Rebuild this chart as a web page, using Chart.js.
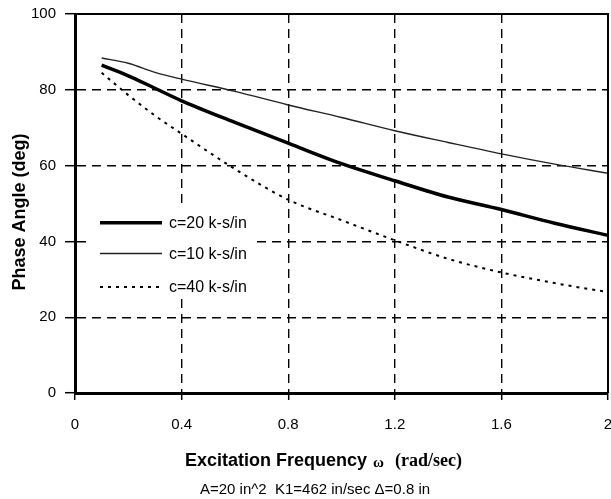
<!DOCTYPE html>
<html><head><meta charset="utf-8">
<script src="https://cdn.jsdelivr.net/npm/chart.js@4/dist/chart.umd.min.js"></script>
<style>
html,body{margin:0;padding:0;overflow:hidden;background:#fff;width:611px;height:499px}
#wrap{width:620px;height:499px}
</style></head>
<body><div id="wrap"><canvas id="c" width="620" height="499"></canvas></div>
<script>
const omega = [0.1, 0.2, 0.3, 0.4, 0.6, 0.8, 1.0, 1.2, 1.4, 1.6, 1.8, 2.0];
const phaseC20 = [86.5, 83.7, 80.4, 77.1, 71.4, 65.9, 60.5, 56.0, 51.7, 48.4, 44.8, 41.6];
const phaseC10 = [88.4, 87.0, 84.6, 82.8, 79.6, 76.0, 72.7, 69.2, 66.1, 63.1, 60.4, 58.0];
const phaseC40 = [84.5, 78.6, 73.2, 68.4, 59.1, 51.0, 45.6, 40.3, 35.4, 31.8, 29.0, 26.6];
const seriesLabels = ['c=20 k-s/in', 'c=10 k-s/in', 'c=40 k-s/in'];
const xTicks = [0, 0.4, 0.8, 1.2, 1.6, 2];
const yTicks = [0, 20, 40, 60, 80, 100];
const xTitleParts = ['Excitation Frequency', '\u03c9', '(rad/sec)'];
const yTitle = 'Phase Angle (deg)';
const footnote = 'A=20 in^2  K1=462 in/sec \u0394=0.8 in';

const pts = ys => omega.map((x, i) => ({x, y: ys[i]}));

const SANS = '"Liberation Sans", Arial, sans-serif';
const SERIF = '"Liberation Serif", "Times New Roman", serif';

const textPlugin = {
  id: 'texts',
  beforeDatasetsDraw(chart) {
    const ctx = chart.ctx;
    ctx.save();
    ctx.fillStyle = '#fff';
    ctx.fillRect(92, 206, 164, 91);
    ctx.restore();
  },
  afterDraw(chart) {
    const ctx = chart.ctx, a = chart.chartArea;
    ctx.save();
    ctx.strokeStyle = '#000';
    ctx.lineWidth = 2;
    ctx.beginPath();
    ctx.moveTo(a.left, a.top); ctx.lineTo(a.right, a.top); ctx.lineTo(a.right, a.bottom);
    ctx.stroke();
    const rows = [222.7, 253.5, 287];
    chart.data.datasets.forEach((ds, i) => {
      ctx.beginPath();
      ctx.setLineDash(ds.borderDash || []);
      ctx.lineWidth = ds.borderWidth;
      ctx.strokeStyle = ds.borderColor;
      ctx.moveTo(100, rows[i]); ctx.lineTo(162, rows[i]);
      ctx.stroke();
      ctx.setLineDash([]);
      ctx.fillStyle = '#000';
      ctx.font = '16px ' + SANS;
      ctx.textBaseline = 'middle';
      ctx.textAlign = 'left';
      ctx.fillText(ds.label, 169, rows[i] + 1);
    });
    const fonts = ['bold 18px ' + SANS, 'bold 15px ' + SERIF, 'bold 18px ' + SERIF];
    const gaps = [6, 11, 0];
    let total = 0;
    const widths = xTitleParts.map((t, i) => { ctx.font = fonts[i]; const w = ctx.measureText(t).width; total += w + gaps[i]; return w; });
    let x = 323.5 - total / 2;
    ctx.textBaseline = 'alphabetic';
    xTitleParts.forEach((t, i) => {
      ctx.font = fonts[i];
      ctx.fillText(t, x, 466 + (i === 1 ? 1 : 0));
      x += widths[i] + gaps[i];
    });
    ctx.save();
    ctx.translate(20, 212);
    ctx.rotate(-Math.PI / 2);
    ctx.font = 'bold 18px ' + SANS;
    ctx.textAlign = 'center';
    ctx.textBaseline = 'middle';
    ctx.fillText(yTitle, 0, 0);
    ctx.restore();
    ctx.font = '15px ' + SANS;
    ctx.textAlign = 'center';
    ctx.textBaseline = 'middle';
    ctx.fillText(footnote, 315, 490);
    ctx.restore();
  }
};

new Chart(document.getElementById('c'), {
  type: 'line',
  data: {
    datasets: [
      {label: seriesLabels[0], data: pts(phaseC20), borderColor: '#000', borderWidth: 3.5, pointRadius: 0, cubicInterpolationMode: 'monotone', fill: false},
      {label: seriesLabels[1], data: pts(phaseC10), borderColor: '#222', borderWidth: 1.4, pointRadius: 0, cubicInterpolationMode: 'monotone', fill: false},
      {label: seriesLabels[2], data: pts(phaseC40), borderColor: '#000', borderWidth: 2, borderDash: [3, 5], pointRadius: 0, cubicInterpolationMode: 'monotone', fill: false}
    ]
  },
  options: {
    responsive: false,
    animation: false,
    devicePixelRatio: 1,
    layout: {padding: {left: 0, top: 14, right: 12, bottom: 0}},
    plugins: {legend: {display: false}, tooltip: {enabled: false}, title: {display: false}},
    scales: {
      x: {
        type: 'linear', min: 0, max: 2,
        afterBuildTicks: s => { s.ticks = xTicks.map(v => ({value: v})); },
        afterFit: s => { s.height = 106; s.paddingLeft = 0; s.paddingRight = 0; },
        ticks: {color: '#000', font: {family: SANS, size: 15}, padding: 16, maxRotation: 0, autoSkip: false,
                callback: v => String(v)},
        grid: {color: '#000', lineWidth: 1.4, tickLength: 7, tickColor: '#000', tickWidth: 1.5, tickBorderDash: []},
        border: {display: true, color: '#000', width: 3, dash: [9, 6]}
      },
      y: {
        min: 0, max: 100,
        afterBuildTicks: s => { s.ticks = yTicks.map(v => ({value: v})); },
        afterFit: s => { s.width = 75; s.paddingTop = 0; s.paddingBottom = 0; },
        ticks: {color: '#000', font: {family: SANS, size: 15}, padding: 9},
        grid: {color: '#000', lineWidth: 1.4, tickLength: 10, tickColor: '#000', tickWidth: 1.5, tickBorderDash: []},
        border: {display: true, color: '#000', width: 3, dash: [9, 6]}
      }
    }
  },
  plugins: [textPlugin]
});
</script>
</body></html>
